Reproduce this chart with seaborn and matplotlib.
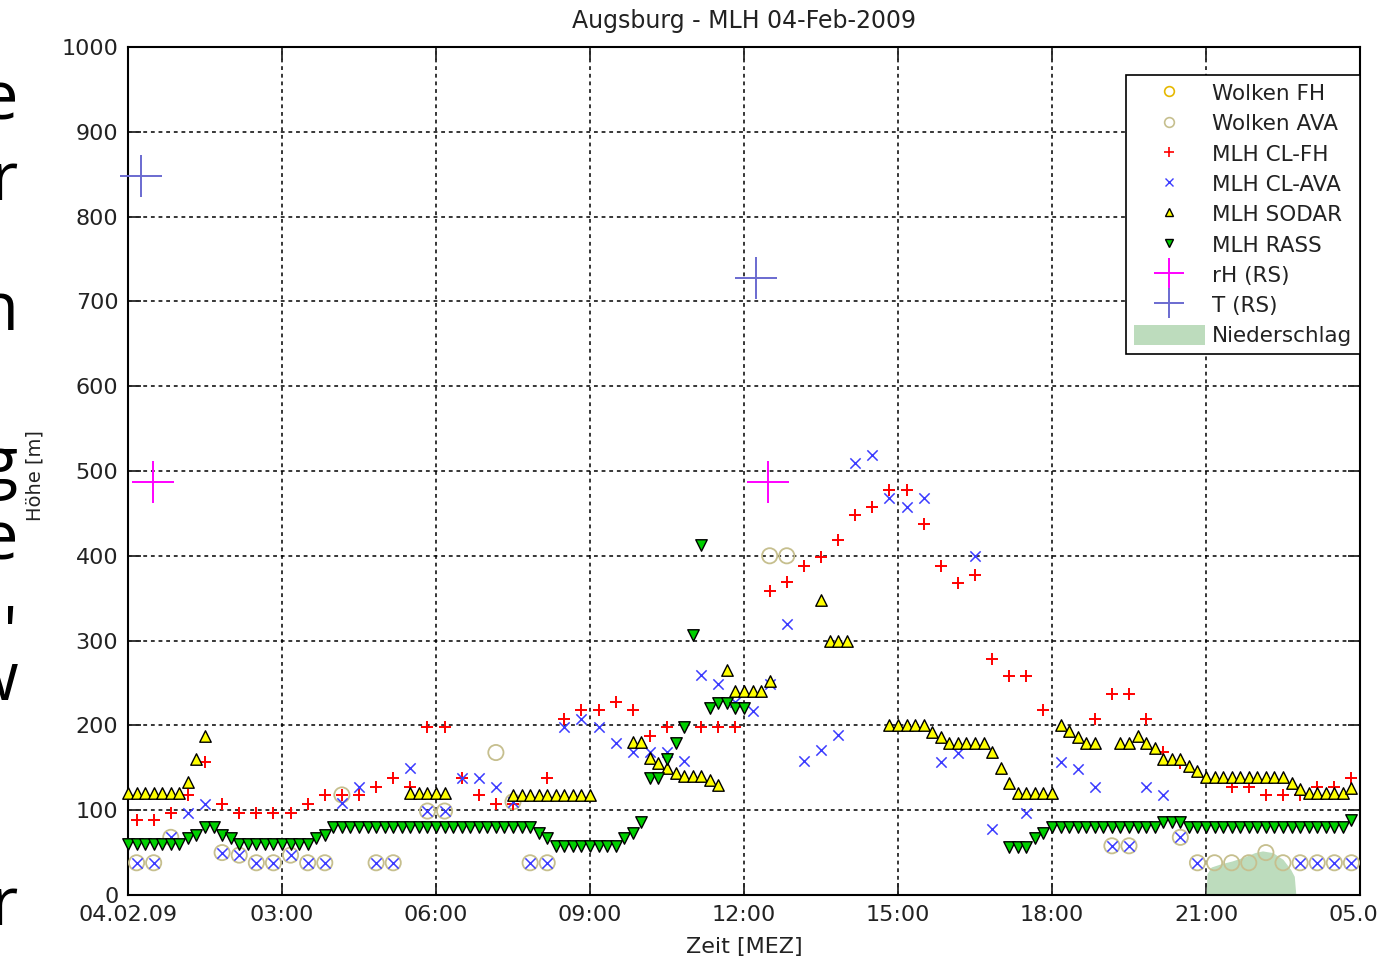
import numpy as np
import matplotlib
matplotlib.use('Agg')
import matplotlib.pyplot as plt
import seaborn as sns
from matplotlib.lines import Line2D
from matplotlib.patches import Patch

# time given as 10-minute slots after 04.02.09 00:00 MEZ, heights in m

sodar_slot = [0, 1, 2, 3, 4, 5, 6, 7, 8, 9,
              33, 34, 35, 36, 37,
              45, 46, 47, 48, 49, 50, 51, 52, 53, 54,
              59, 60, 61, 62, 63, 64, 65, 66, 67, 68, 69,
              70, 71, 72, 73, 74, 75,
              81, 82, 83, 84,
              89, 90, 91, 92, 93, 94, 95, 96, 97, 98, 99, 100, 101, 102, 103, 104, 105, 106, 107, 108,
              109, 110, 111, 112, 113, 116, 117, 118, 119, 120, 121, 122, 123, 124, 125,
              126, 127, 128, 129, 130, 131, 132, 133, 134, 135, 136, 137, 138, 139, 140, 141, 142, 143]
sodar_h = [120, 120, 120, 120, 120, 120, 120, 133, 160, 188,
           120, 120, 120, 120, 120,
           118, 118, 118, 118, 118, 118, 118, 118, 118, 118,
           180, 180, 161, 156, 150, 144, 140, 140, 140, 136, 130,
           265, 240, 240, 240, 240, 252,
           348, 300, 300, 300,
           200, 200, 200, 200, 200, 192, 186, 179, 179, 179, 179, 179, 169, 150, 132, 120, 120, 120, 120, 120,
           200, 193, 186, 179, 179, 179, 179, 187, 179, 173, 160, 160, 160, 152, 146,
           139, 139, 139, 139, 139, 139, 139, 139, 139, 139, 132, 125, 120, 120, 120, 120, 120, 126]

rass_slot = list(range(0, 73)) + list(range(103, 144))
rass_h = [60, 60, 60, 60, 60, 60, 60,
          67, 71, 80, 80, 71, 67,
          60, 60, 60, 60, 60, 60, 60, 60, 60,
          67, 71,
          80, 80, 80, 80, 80, 80, 80, 80, 80, 80, 80, 80,
          80, 80, 80, 80, 80, 80, 80, 80, 80, 80, 80, 80,
          73, 67,
          58, 58, 58, 58, 58, 58, 58, 58,
          67, 73, 86, 138, 138, 160, 179, 198, 307, 413, 220, 226, 226, 220, 220,
          57, 57, 57, 67, 73,
          80, 80, 80, 80, 80, 80, 80, 80, 80, 80, 80, 80, 80,
          86, 86, 86,
          80, 80, 80, 80, 80, 80, 80, 80, 80, 80, 80, 80, 80, 80, 80, 80, 80, 80, 80,
          88]

clfh_slot = [1, 3, 5, 7, 9, 11, 13, 15, 17, 19, 21, 23, 25, 27, 29, 31, 33, 35, 37, 39,
             41, 43, 45, 49, 51, 53, 55, 57, 59, 61, 63, 67, 69, 71, 75, 77, 79, 81, 83, 85,
             87, 89, 91, 93, 95, 97, 99, 101, 103, 105, 107, 113, 115, 117, 119, 121, 123,
             129, 131, 133, 135, 137, 139, 141, 143]
clfh_h = [88, 88, 97, 118, 157, 107, 97, 97, 97, 97, 107, 118, 118, 118, 127, 138, 127, 198, 198, 138,
          118, 107, 107, 138, 207, 218, 218, 228, 218, 187, 198, 198, 198, 198, 358, 369, 388, 399, 419, 448,
          457, 478, 478, 437, 388, 368, 377, 278, 258, 258, 218, 207, 237, 237, 207, 169, 156,
          127, 127, 118, 118, 118, 127, 127, 138]

clava_slot = [1, 3, 5, 7, 9, 11, 13, 15, 17, 19, 21, 23, 25, 27, 29, 31, 33, 35, 37, 39,
              41, 43, 45, 47, 49, 51, 53, 55, 57, 59, 61, 63, 65, 67, 69, 71, 73, 75, 77, 79,
              81, 83, 85, 87, 89, 91, 93, 95, 97, 99, 101, 105, 109, 111, 113, 115, 117, 119,
              121, 123, 125, 137, 139, 141, 143]
clava_h = [38, 38, 68, 97, 107, 50, 47, 38, 38, 47, 38, 38, 108, 127, 38, 38, 150, 99, 99, 138,
           138, 127, 110, 38, 38, 198, 207, 198, 179, 169, 169, 169, 158, 259, 249, 228, 217, 249, 320, 158,
           171, 189, 509, 519, 468, 458, 468, 157, 167, 400, 78, 97, 157, 148, 127, 58, 58, 127,
           118, 68, 38, 38, 38, 38, 38]

wolken_ava_slot = [1, 3, 5, 11, 13, 15, 17, 19, 21, 23, 25, 29, 31, 35, 37, 43, 45, 47, 49, 75,
                   77, 115, 117, 123, 125, 127, 129, 131, 133, 135, 137, 139, 141, 143]
wolken_ava_h = [38, 38, 68, 50, 47, 38, 38, 47, 38, 38, 118, 38, 38, 99, 99, 168, 110, 38, 38, 400,
                400, 58, 58, 68, 38, 38, 38, 38, 50, 38, 38, 38, 38, 38]
wolken_fh_slot = []
wolken_fh_h = []

# radiosonde (hours, m)
rh_t = [0.49, 12.47]
rh_h = [487, 487]
temp_t = [0.25, 12.23]
temp_h = [848, 728]

# precipitation shape (hours, plotted in m-units)
precip_t = [21.0, 21.02, 21.1, 21.3, 21.5, 21.75, 21.95, 22.1, 22.3, 22.5, 22.65, 22.72, 22.75]
precip_h = [0, 25, 33, 37, 40, 45, 50, 52, 50, 42, 30, 22, 0]

xtick_labels = ['04.02.09', '03:00', '06:00', '09:00', '12:00', '15:00', '18:00', '21:00', '05.02']

c_wfh = '#e6b800'
c_wava = '#c6bf8e'
c_fh = '#ff0000'
c_ava = '#3c3cff'
c_sodar = '#ffff00'
c_rass = '#00d000'
c_rh = '#ff00ff'
c_t = '#6a6ad0'
c_prec = '#bddcbd'

sns.set_style('ticks')
plt.rcParams['font.family'] = ['DejaVu Sans']

fig = plt.figure(figsize=(13.78, 9.61), dpi=100)
ax = fig.add_axes([128 / 1378, 1 - 895 / 961, 1232 / 1378, 848 / 961])

ax.fill_between(precip_t, 0, precip_h, color=c_prec, lw=0, zorder=1)


def scat(t, h, **kw):
    sns.scatterplot(x=np.asarray(t, dtype=float), y=np.asarray(h, dtype=float),
                    ax=ax, legend=False, clip_on=False, zorder=3, **kw)


def hrs(slots):
    return np.asarray(slots, dtype=float) / 6


scat(hrs(wolken_fh_slot), wolken_fh_h, marker='o', s=120, facecolor='none', edgecolor=c_wfh, linewidth=1.3)
scat(hrs(wolken_ava_slot), wolken_ava_h, marker='o', s=120, facecolor='none', edgecolor=c_wava, linewidth=1.3)
scat(hrs(clfh_slot), clfh_h, marker='+', s=80, color=c_fh, linewidth=1.4)
scat(hrs(clava_slot), clava_h, marker='x', s=55, color=c_ava, linewidth=1.1)
scat(hrs(sodar_slot), sodar_h, marker='^', s=68, color=c_sodar, edgecolor='black', linewidth=1.0)
scat(hrs(rass_slot), rass_h, marker='v', s=68, color=c_rass, edgecolor='black', linewidth=1.0)
scat(rh_t, rh_h, marker='+', s=900, color=c_rh, linewidth=1.4)
scat(temp_t, temp_h, marker='+', s=900, color=c_t, linewidth=1.4)

ax.set_xlim(0, 24)
ax.set_ylim(0, 1000)
ax.set_xticks(range(0, 25, 3))
ax.set_xticklabels(xtick_labels)
ax.set_yticks(range(0, 1001, 100))
ax.tick_params(direction='in', length=9, width=1.3, top=True, right=True,
               labelsize=16, pad=7, labelcolor='#222222')
ax.grid(True, color='black', linestyle=(0, (2.5, 2.5)), linewidth=1.1)
ax.set_axisbelow(True)
for sp in ax.spines.values():
    sp.set_color('black')
    sp.set_linewidth(1.5)

ax.set_title('Augsburg - MLH 04-Feb-2009', fontsize=17, pad=14, color='#222222')
ax.set_xlabel('Zeit [MEZ]', fontsize=16, color='#222222')
ax.xaxis.set_label_coords(0.5, -0.05)
ax.set_ylabel('Höhe [m]', fontsize=14, color='#222222')
ax.yaxis.set_label_coords(-0.068, 0.495)

handles = [
    Line2D([], [], ls='none', marker='o', ms=7, mfc='none', mec=c_wfh, mew=1.2),
    Line2D([], [], ls='none', marker='o', ms=7, mfc='none', mec=c_wava, mew=1.2),
    Line2D([], [], ls='none', marker='+', ms=7, mec=c_fh, mew=1.2),
    Line2D([], [], ls='none', marker='x', ms=6, mec=c_ava, mew=1.0),
    Line2D([], [], ls='none', marker='^', ms=6, mfc=c_sodar, mec='black', mew=1.0),
    Line2D([], [], ls='none', marker='v', ms=6, mfc=c_rass, mec='black', mew=1.0),
    Line2D([], [], ls='none', marker='+', ms=22, mec=c_rh, mew=1.4),
    Line2D([], [], ls='none', marker='+', ms=22, mec=c_t, mew=1.4),
    Patch(facecolor=c_prec, edgecolor='none'),
]
labels = ['Wolken FH', 'Wolken AVA', 'MLH CL-FH', 'MLH CL-AVA', 'MLH SODAR',
          'MLH RASS', 'rH (RS)', 'T (RS)', 'Niederschlag']
leg = ax.legend(handles, labels, loc='upper right', bbox_to_anchor=(1.0, 1 - 28 / 848),
                borderaxespad=0, fontsize=15.5, frameon=True, fancybox=False,
                handlelength=3.3, handleheight=1.1, handletextpad=0.35,
                labelspacing=0.4, borderpad=0.35, framealpha=1)
leg.get_frame().set_edgecolor('black')
leg.get_frame().set_linewidth(1.2)
for txt in leg.get_texts():
    txt.set_color('#222222')

# cut-off letters from the neighbouring page column
side_letters = ['e', 'r', 'n', 'g', 'e', "'", 'w', 'r']
side_y = [120, 200, 330, 485, 560, 655, 700, 925]
for ch, y in zip(side_letters, side_y):
    fig.text(18 / 1378, 1 - y / 961, ch, fontsize=48, family='Open Sans',
             ha='right', va='baseline', color='black')

fig.savefig('out.png', dpi=100)
